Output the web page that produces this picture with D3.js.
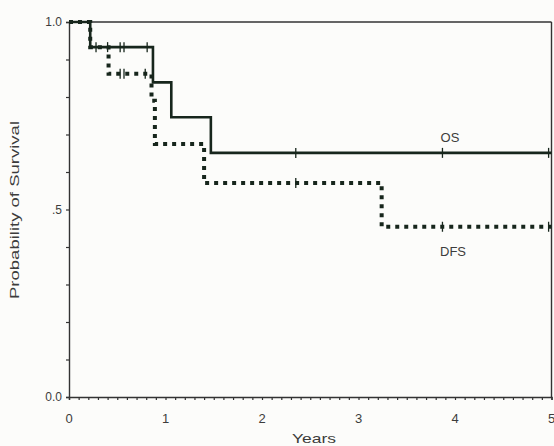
<!DOCTYPE html>
<html>
<head>
<meta charset="utf-8">
<script src="https://cdn.jsdelivr.net/npm/d3@7"></script>
<style>
  html, body { margin: 0; padding: 0; background: #fcfcfa; }
  svg { display: block; font-family: "Liberation Sans", Arial, sans-serif; }
</style>
</head>
<body>
<div id="chart-container"></div>
<script>
// Kaplan-Meier step data
const osTimes = [0, 0.22, 0.87, 1.06, 1.47];
const osSurv = [1.0, 0.933, 0.839, 0.746, 0.651];
const osCensor = [0.28, 0.40, 0.53, 0.57, 0.81, 2.35, 3.87, 4.97];

const dfsTimes = [0, 0.22, 0.41, 0.855, 0.89, 1.40, 3.24];
const dfsSurv = [1.0, 0.933, 0.862, 0.79, 0.675, 0.571, 0.454];
const dfsCensor = [0.53, 0.57, 0.79, 2.35, 3.87, 4.97];

const xTickLabels = ["0", "1", "2", "3", "4", "5"];
const yTickValues = [0, 0.5, 1.0];
const yTickLabels = ["0.0", ".5", "1.0"];
const maxYears = 5;

const width = 554, height = 446;
const lineColor = "#17261c";
const textColor = "#3c3c3c";

const svg = d3.select("#chart-container").append("svg")
    .attr("width", width)
    .attr("height", height);

const x = d3.scaleLinear().domain([0, maxYears]).range([69, 551.5]);
const y = d3.scaleLinear().domain([0, 1]).range([397, 22]);

// build step points, carrying the last value out to the end of the axis
function steps(times, surv) {
    const pts = times.map((t, i) => [t, surv[i]]);
    pts.push([maxYears, surv[surv.length - 1]]);
    return pts;
}
// value of a step curve at time t
function valueAt(times, surv, t) {
    let v = surv[0];
    times.forEach((tt, i) => { if (tt <= t) v = surv[i]; });
    return v;
}

const line = d3.line()
    .x(d => x(d[0]))
    .y(d => y(d[1]))
    .curve(d3.curveStepAfter);

// frame: top and right sides
svg.append("line")
    .attr("x1", x(0)).attr("x2", x(maxYears))
    .attr("y1", y(1)).attr("y2", y(1))
    .attr("stroke", "#333").attr("stroke-width", 1.4);
svg.append("line")
    .attr("x1", x(maxYears)).attr("x2", x(maxYears))
    .attr("y1", y(1)).attr("y2", y(0))
    .attr("stroke", "#333").attr("stroke-width", 1.4);

// x axis with minor ticks every 0.1 year
const xAxis = svg.append("g")
    .attr("transform", `translate(0,${y(0)})`)
    .call(d3.axisBottom(x)
        .tickValues(d3.range(0, 51).map(i => i / 10))
        .tickSize(3)
        .tickFormat(""));
xAxis.select(".domain").attr("stroke", "#333").attr("stroke-width", 1.4);
xAxis.selectAll(".tick line").attr("stroke", "#333").attr("stroke-width", 1.2);

svg.selectAll("text.xlab")
    .data(xTickLabels)
    .enter()
    .append("text")
    .attr("class", "xlab")
    .attr("x", d => x(+d))
    .attr("y", 423)
    .attr("text-anchor", "middle")
    .attr("font-size", 13)
    .attr("fill", textColor)
    .text(d => d);

// y axis with minor ticks every 0.1
const yAxis = svg.append("g")
    .attr("transform", `translate(${x(0)},0)`)
    .call(d3.axisLeft(y)
        .tickValues(d3.range(0, 11).map(i => i / 10))
        .tickSize(3)
        .tickFormat(""));
yAxis.select(".domain").attr("stroke", "#333").attr("stroke-width", 1.4);
yAxis.selectAll(".tick line").attr("stroke", "#333").attr("stroke-width", 1.2);

svg.selectAll("text.ylab")
    .data(yTickValues)
    .enter()
    .append("text")
    .attr("class", "ylab")
    .attr("x", 62)
    .attr("y", d => y(d) + 4)
    .attr("text-anchor", "end")
    .attr("font-size", 12)
    .attr("fill", textColor)
    .text((d, i) => yTickLabels[i]);

// axis titles
svg.append("text")
    .attr("transform", "translate(19,210) rotate(-90)")
    .attr("text-anchor", "middle")
    .attr("font-size", 13)
    .attr("fill", textColor)
    .attr("textLength", 178)
    .attr("lengthAdjust", "spacingAndGlyphs")
    .text("Probability of Survival");

svg.append("text")
    .attr("x", 314)
    .attr("y", 443)
    .attr("text-anchor", "middle")
    .attr("font-size", 13)
    .attr("fill", textColor)
    .attr("textLength", 44)
    .attr("lengthAdjust", "spacingAndGlyphs")
    .text("Years");

// DFS: heavy dotted step line
svg.append("path")
    .datum(steps(dfsTimes, dfsSurv))
    .attr("d", line)
    .attr("fill", "none")
    .attr("stroke", lineColor)
    .attr("stroke-width", 4)
    .attr("stroke-dasharray", "4,5");

// OS: solid step line
svg.append("path")
    .datum(steps(osTimes, osSurv))
    .attr("d", line)
    .attr("fill", "none")
    .attr("stroke", lineColor)
    .attr("stroke-width", 2.6);

// censor marks
svg.selectAll("line.os-censor")
    .data(osCensor)
    .enter()
    .append("line")
    .attr("class", "os-censor")
    .attr("x1", d => x(d)).attr("x2", d => x(d))
    .attr("y1", d => y(valueAt(osTimes, osSurv, d)) - 5)
    .attr("y2", d => y(valueAt(osTimes, osSurv, d)) + 5)
    .attr("stroke", lineColor)
    .attr("stroke-width", 1.3);

svg.selectAll("line.dfs-censor")
    .data(dfsCensor)
    .enter()
    .append("line")
    .attr("class", "dfs-censor")
    .attr("x1", d => x(d)).attr("x2", d => x(d))
    .attr("y1", d => y(valueAt(dfsTimes, dfsSurv, d)) - 5)
    .attr("y2", d => y(valueAt(dfsTimes, dfsSurv, d)) + 5)
    .attr("stroke", lineColor)
    .attr("stroke-width", 1.3);

// curve labels
svg.append("text")
    .attr("x", 450).attr("y", 142)
    .attr("text-anchor", "middle")
    .attr("font-size", 13)
    .attr("fill", textColor)
    .text("OS");

svg.append("text")
    .attr("x", 453).attr("y", 256)
    .attr("text-anchor", "middle")
    .attr("font-size", 13)
    .attr("fill", textColor)
    .text("DFS");
</script>
</body>
</html>
